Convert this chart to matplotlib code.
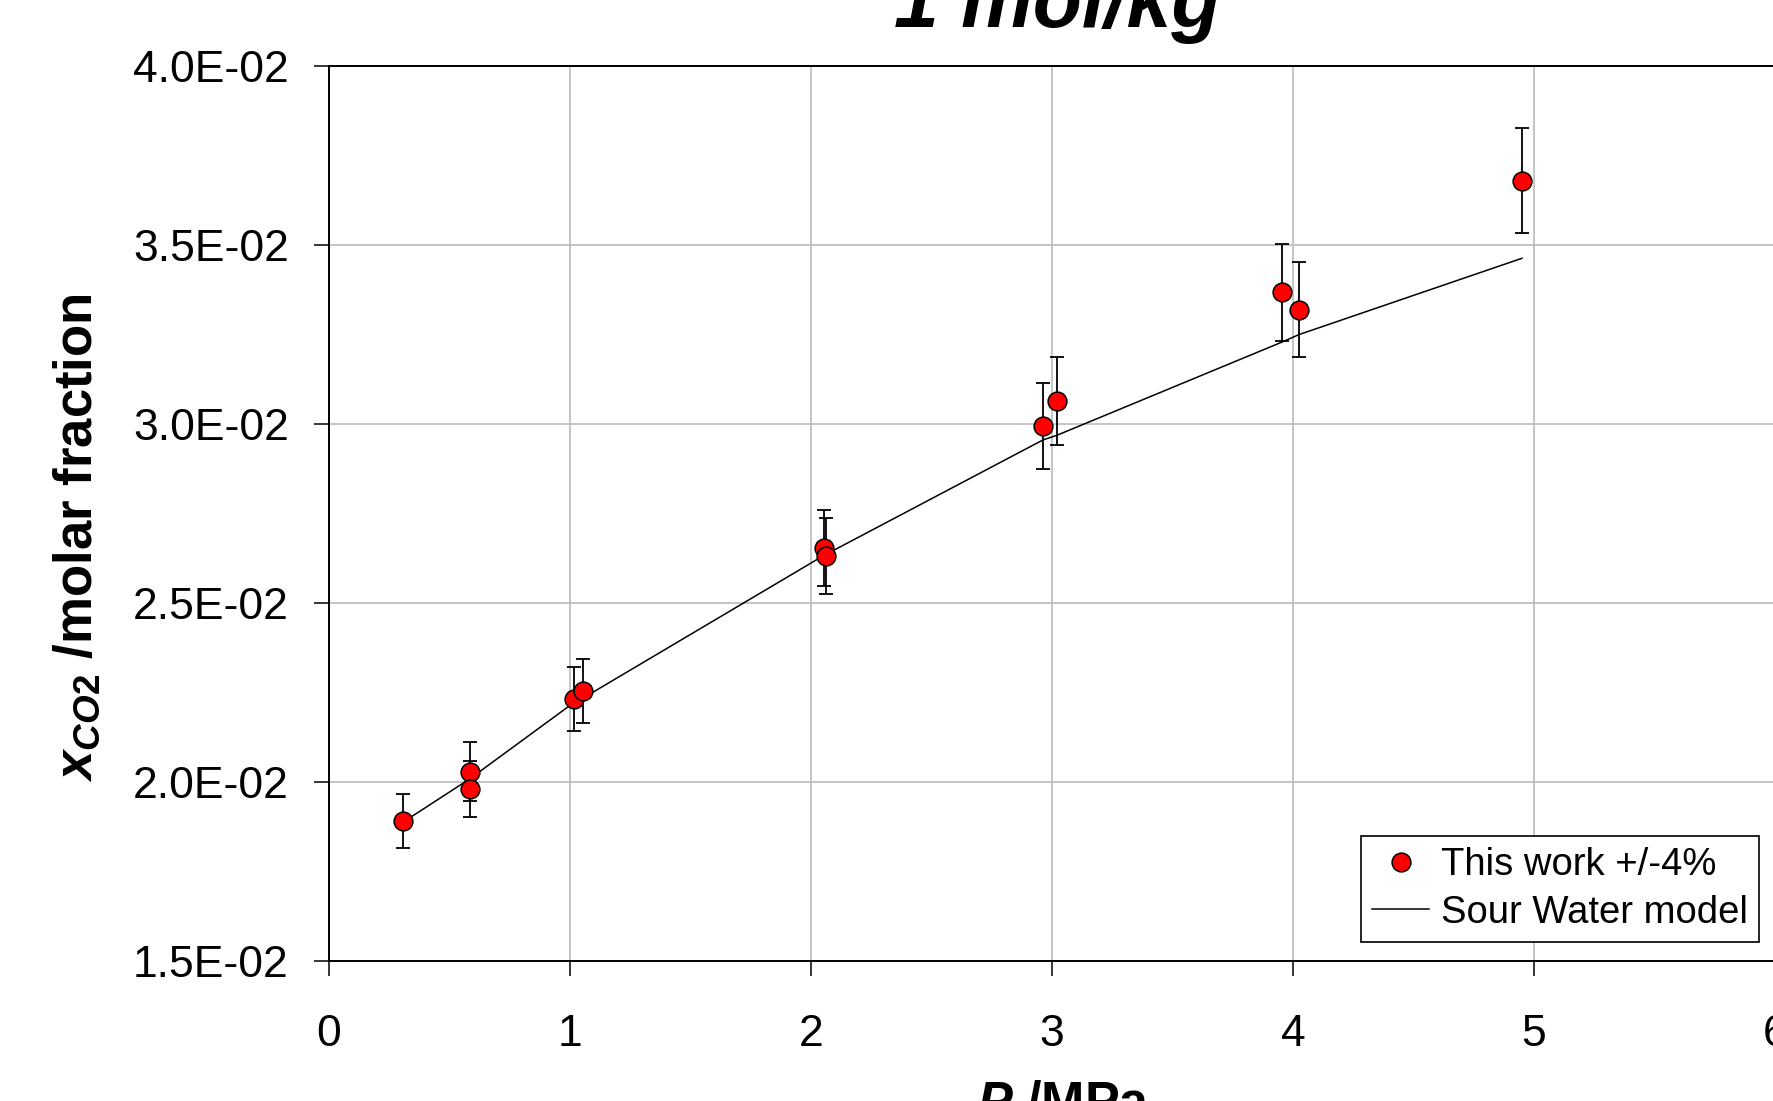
import matplotlib
matplotlib.use("Agg")
import matplotlib.pyplot as plt
import numpy as np

plt.rcParams['font.family'] = ['Liberation Sans', 'DejaVu Sans']
plt.rcParams['mathtext.fontset'] = 'custom'
plt.rcParams['mathtext.rm'] = 'Liberation Sans:bold'
plt.rcParams['mathtext.it'] = 'Liberation Sans:bold:italic'
plt.rcParams['mathtext.bf'] = 'Liberation Sans:bold'

# experimental points (P in MPa, x_CO2 molar fraction)
p_exp = [0.308, 0.585, 0.585, 1.017, 1.054, 2.055, 2.064, 2.963, 3.021, 3.954, 4.025, 4.950]
x_exp = [0.01891, 0.02029, 0.01980, 0.02232, 0.02254, 0.02654, 0.02631,
         0.02994, 0.03064, 0.03367, 0.03318, 0.03679]
rel_err = 0.04

# Sour Water model curve
p_model = [0.308, 0.585, 1.017, 1.054, 2.055, 2.064, 2.963, 3.021, 3.954, 4.025, 4.950]
x_model = [0.01888, 0.02009, 0.02222, 0.02234, 0.02633, 0.02636, 0.02955, 0.02968,
           0.03228, 0.03249, 0.03462]

x_ticks = [0, 1, 2, 3, 4, 5, 6]
y_ticks = [0.015, 0.020, 0.025, 0.030, 0.035, 0.040]
y_ticklabels = ["1.5E-02", "2.0E-02", "2.5E-02", "3.0E-02", "3.5E-02", "4.0E-02"]

fig = plt.figure(figsize=(17.73, 11.01), dpi=100)
ax = fig.add_axes([329 / 1773, 1 - 961 / 1101, 1446 / 1773, 895.4 / 1101])

ax.grid(True, color='#c0c0c0', linewidth=1.3, zorder=0)
ax.set_axisbelow(True)

line, = ax.plot(p_model, x_model, color='black', linewidth=1.1, zorder=2)
x_exp = np.array(x_exp)
ax.errorbar(p_exp, x_exp, yerr=rel_err * x_exp, fmt='none', ecolor='black',
            elinewidth=1.3, capsize=5, capthick=1.3, zorder=3)
pts, = ax.plot(p_exp, x_exp, 'o', markersize=13.5, markerfacecolor='#ff0000',
               markeredgecolor='black', markeredgewidth=1.1, zorder=4)

ax.set_xlim(0, 6)
ax.set_ylim(0.015, 0.040)
ax.set_xticks(x_ticks)
ax.set_yticks(y_ticks)
ax.set_yticklabels(y_ticklabels)
ax.tick_params(axis='both', direction='out', length=11, width=1.1, labelsize=32)
ax.tick_params(axis='x', pad=27)
ax.tick_params(axis='y', pad=18)
for s in ax.spines.values():
    s.set_linewidth(1.4)

leg = ax.legend([pts, line], ["This work +/-4%", "Sour Water model"],
                loc='lower right', bbox_to_anchor=(0.989, 0.021), borderaxespad=0,
                fontsize=27.5, fancybox=False, framealpha=1, edgecolor='black',
                handlelength=1.5, handletextpad=0.3, borderpad=0.3, labelspacing=0.3)
leg.get_frame().set_linewidth(1.2)
leg.set_zorder(5)

fig.text(1057 / 1773, 1 - 27 / 1101, "1 mol/kg", fontsize=58, fontweight='bold',
         fontstyle='italic', ha='center', va='baseline')
fig.text(1064 / 1773, 1 - 1117 / 1101, r"$P$ /MPa", fontsize=37.5, fontweight='bold',
         ha='center', va='baseline')
fig.text(77 / 1773, 1 - 538 / 1101, r"$x_{CO2}$ /molar fraction", fontsize=38,
         fontweight='bold', rotation=90, ha='center', va='center')

fig.savefig("out.png", dpi=100)
